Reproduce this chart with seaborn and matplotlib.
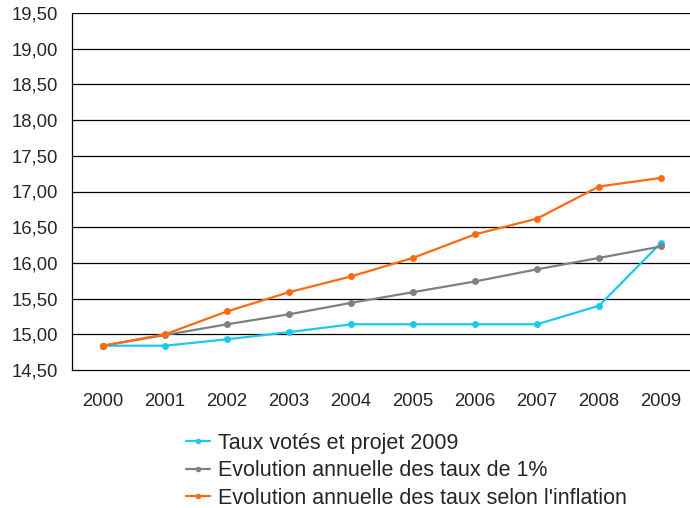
import numpy as np
import pandas as pd
import matplotlib
matplotlib.use("Agg")
import matplotlib.pyplot as plt
import seaborn as sns

# --- Data ---
years = ["2000", "2001", "2002", "2003", "2004", "2005", "2006", "2007", "2008", "2009"]
taux_votes = [14.84, 14.84, 14.93, 15.03, 15.14, 15.14, 15.14, 15.14, 15.40, 16.28]
evol_1pct = [14.84, 14.99, 15.14, 15.28, 15.44, 15.59, 15.74, 15.91, 16.07, 16.23]
evol_inflation = [14.84, 15.00, 15.32, 15.59, 15.81, 16.07, 16.40, 16.62, 17.07, 17.19]

series_names = [
    "Taux votés et projet 2009",
    "Evolution annuelle des taux de 1%",
    "Evolution annuelle des taux selon l'inflation",
]
series_colors = ["#1CC8F2", "#808080", "#FF6A0E"]

df = pd.DataFrame({
    "pos": list(range(len(years))) * 3,
    "value": taux_votes + evol_1pct + evol_inflation,
    "serie": [series_names[0]] * 10 + [series_names[1]] * 10 + [series_names[2]] * 10,
})

# --- Plot ---
sns.set_style("white")
plt.rcParams["font.family"] = ["Liberation Sans", "DejaVu Sans"]

fig = plt.figure(figsize=(6.9, 5.08), dpi=100)
ax = fig.add_axes([72 / 690, 1 - 370 / 508, (692 - 72) / 690, (370 - 13) / 508])

sns.lineplot(data=df, x="pos", y="value", hue="serie", hue_order=series_names,
             palette=series_colors, marker="o", markersize=5, markeredgewidth=0,
             linewidth=1.6, ax=ax, legend=False)

ax.set_xlim(-0.5, 9.5)
ax.set_ylim(14.5, 19.5)

yt = np.arange(14.5, 19.51, 0.5)
ax.set_yticks(yt)
ax.set_yticklabels([f"{v:.2f}".replace(".", ",") for v in yt], fontsize=13.3)
for v in yt[1:]:
    ax.axhline(v, color="black", linewidth=0.9, zorder=0)

# category labels centred, tick marks on the boundaries
ax.set_xticks(np.arange(-0.5, 9.6, 1.0))
ax.set_xticklabels([])
ax.set_xticks(range(len(years)), minor=True)
ax.set_xticklabels(years, minor=True, fontsize=13.3)
ax.tick_params(axis="x", which="major", direction="out", length=5, width=0.9, color="black")
ax.tick_params(axis="x", which="minor", length=0, pad=16.5)
ax.tick_params(axis="y", direction="out", length=5, width=0.9, color="black", pad=5)

ax.set_xlabel("")
ax.set_ylabel("")
for side in ["top", "right"]:
    ax.spines[side].set_visible(False)
for side in ["left", "bottom"]:
    ax.spines[side].set_color("black")
    ax.spines[side].set_linewidth(0.9)

handles = [plt.Line2D([], [], color=c, marker="o", markersize=4, markeredgewidth=0, linewidth=1.6)
           for c in series_colors]
fig.legend(handles, series_names, loc="upper left", bbox_to_anchor=(186 / 690, 1 - 433 / 508),
           frameon=False, fontsize=15.5, handlelength=1.1, handletextpad=0.4,
           labelspacing=0.3, borderaxespad=0, borderpad=0)

fig.savefig("out.png", dpi=100)
